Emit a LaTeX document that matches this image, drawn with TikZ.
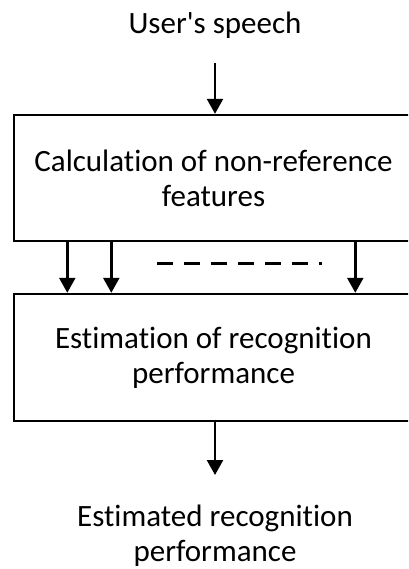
\documentclass[tikz,border=0pt]{standalone}
\usepackage{fontspec}
\setmainfont[Ligatures={NoCommon}]{Carlito}
\usetikzlibrary{arrows.meta}
\tikzset{
  procbox/.style={draw,line width=2.4pt,minimum width=399pt,align=center,inner sep=0pt},
  arr/.style={line width=2.4pt,-{Triangle[width=16pt,length=15pt]}},
  lbl/.style={align=center,inner sep=0pt}
}
\begin{document}
\begin{tikzpicture}[x=1pt,y=-1pt,font=\fontsize{31}{35}\selectfont]
\useasboundingbox (0,0) rectangle (408,569);
\clip (0,0) rectangle (408,569);

\node[lbl,anchor=base] (speech) at (215,34) {User\textquotesingle s speech};

\node[procbox,minimum height=126pt] (calc) at (213.5,178) {Calculation of non-reference\\features};
\node[procbox,minimum height=127pt] (est) at (213.5,357.5) {Estimation of recognition\\performance};

\node[lbl] (result) at (215,536) {Estimated recognition\\performance};

\coordinate (in) at (215,63);
\coordinate (out) at (215,475);

\draw[arr] (in) -- (in |- calc.north);
\foreach \dx in {54.5,98.5,342.5}
  \draw[arr] ([xshift=\dx pt]calc.south west) -- ([xshift=\dx pt]est.north west);
\draw[line width=3pt,dash pattern=on 16pt off 11pt] (157,263) -- (322,263);
\draw[arr] (est.south -| out) -- (out);
\end{tikzpicture}
\end{document}
